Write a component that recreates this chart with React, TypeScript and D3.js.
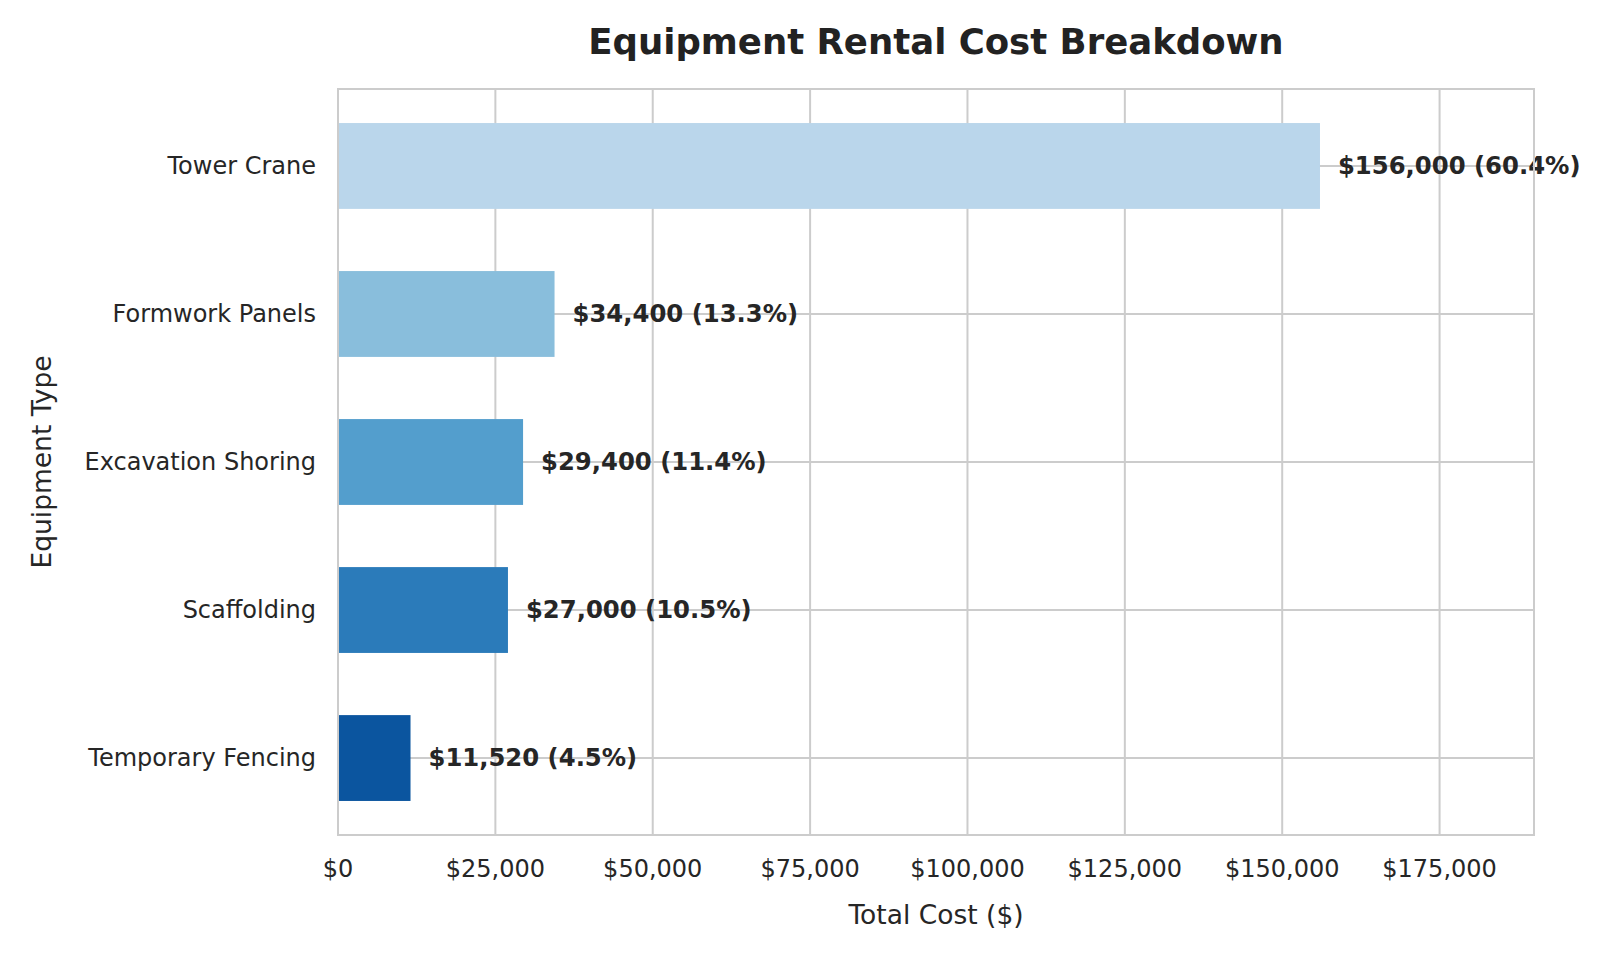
import { useEffect } from 'react';
import * as d3 from 'd3';

const categories = ['Tower Crane', 'Formwork Panels', 'Excavation Shoring', 'Scaffolding', 'Temporary Fencing'];
const costs = [156000, 34400, 29400, 27000, 11520];
const shares = [60.4, 13.3, 11.4, 10.5, 4.5];
const colors = ['#bad6eb', '#89bedc', '#539ecd', '#2b7bba', '#0b559f'];
const xTicks = [0, 25000, 50000, 75000, 100000, 125000, 150000, 175000];

const W = 1600;
const H = 960;
const [ml, mr, mt, mb] = [338, 66, 89, 125];
const font = 'DejaVu Sans, sans-serif';

export default function App() {
    useEffect(() => {
        document.body.style.margin = '0';
    }, []);

    const x = d3.scaleLinear().domain([0, 190000]).range([ml, W - mr]);
    const y = d3.scalePoint<string>().domain(categories).range([mt, H - mb]).padding(0.52);
    const step = y.step();
    const barH = step * 0.58;
    const fmt = d3.format(',');

    return (
        <svg width={W} height={H} style={{ display: 'block', background: '#fff' }} fontFamily={font}>
            <text x={936} y={54} textAnchor="middle" fontSize={35.5} fontWeight="bold" fill="#222">
                Equipment Rental Cost Breakdown
            </text>
            {/* grid */}
            {xTicks.map((t) => (
                <line key={t} x1={x(t)} x2={x(t)} y1={mt} y2={H - mb} stroke="#cccccc" strokeWidth={2} />
            ))}
            {categories.map((c) => (
                <line key={c} x1={ml} x2={W - mr} y1={y(c)} y2={y(c)} stroke="#cccccc" strokeWidth={2} />
            ))}
            {/* bars */}
            {categories.map((c, i) => (
                <rect key={c} x={x(0)} y={y(c)! - barH / 2} width={x(costs[i]) - x(0)} height={barH} fill={colors[i]} />
            ))}
            {categories.map((c, i) => (
                <text key={c} x={x(costs[i]) + 18} y={y(c)! + 8} fontSize={24.3} fontWeight="bold" fill="#262626">
                    {`$${fmt(costs[i])} (${shares[i].toFixed(1)}%)`}
                </text>
            ))}
            <rect x={ml} y={mt} width={W - mr - ml} height={H - mb - mt} fill="none" stroke="#cccccc" strokeWidth={2} />
            {/* axes labels */}
            {xTicks.map((t) => (
                <text key={t} x={x(t)} y={877} textAnchor="middle" fontSize={24} fill="#262626">
                    {`$${fmt(t)}`}
                </text>
            ))}
            {categories.map((c) => (
                <text key={c} x={ml - 22} y={y(c)! + 8} textAnchor="end" fontSize={24} fill="#262626">
                    {c}
                </text>
            ))}
            <text x={936} y={924} textAnchor="middle" fontSize={26.5} fill="#262626">
                Total Cost ($)
            </text>
            <text transform={`translate(51,${(mt + H - mb) / 2}) rotate(-90)`} textAnchor="middle" fontSize={26.5} fill="#262626">
                Equipment Type
            </text>
        </svg>
    );
}
